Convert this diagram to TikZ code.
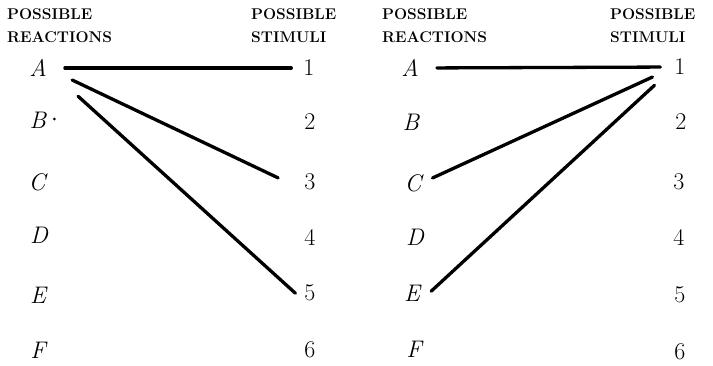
\documentclass[tikz,border=0pt]{standalone}
\usepackage{fontspec}

\begin{document}
\begin{tikzpicture}[
    x=1pt, y=-1pt,
    myhead/.style={anchor=north west, inner sep=0pt, align=left,
        font=\fontsize{15.5}{23.5}\selectfont\bfseries},
    myletter/.style={inner sep=0pt, font=\fontsize{24}{26}\selectfont\itshape},
    mynum/.style={inner sep=0pt, font=\fontsize{24}{26}\selectfont},
    myline/.style={line width=3.3pt, line cap=round}
]
    \useasboundingbox (0,0) rectangle (713,365);

    % Left panel: headings
    \node[myhead] (lreact) at (7,8) {POSSIBLE\\REACTIONS};
    \node[myhead] (lstim) at (251,8) {POSSIBLE\\STIMULI};

    % Left panel: reactions
    \node[myletter] (lA) at (38,68) {A};
    \node[myletter] (lB) at (38,120) {B};
    \node[myletter] (lC) at (37,182) {C};
    \node[myletter] (lD) at (39,235) {D};
    \node[myletter] (lE) at (38,295) {E};
    \node[myletter] (lF) at (38,350) {F};
    \fill ([xshift=8pt,yshift=1pt]lB.east) circle (1.5);

    % Left panel: stimuli
    \node[mynum] (l1) at (309,68) {1};
    \node[mynum] (l2) at (310,122) {2};
    \node[mynum] (l3) at (310,182) {3};
    \node[mynum] (l4) at (310,237) {4};
    \node[mynum] (l5) at (310,293) {5};
    \node[mynum] (l6) at (310,350) {6};

    % Left panel: one reaction, several stimuli
    \draw[myline, shorten <=18pt, shorten >=12pt] (lA.east) -- (l1.west);
    \draw[myline, shorten <=28pt, shorten >=29pt] (lA.east) -- (l3.south west);
    \draw[myline, shorten <=42pt, shorten >=12pt] (lA.east) -- (l5.south west);

    % Right panel: headings
    \node[myhead] (rreact) at (382,8) {POSSIBLE\\REACTIONS};
    \node[myhead] (rstim) at (610,8) {POSSIBLE\\STIMULI};

    % Right panel: reactions
    \node[myletter] (rA) at (410,68) {A};
    \node[myletter] (rB) at (411,122) {B};
    \node[myletter] (rC) at (413,183) {C};
    \node[myletter] (rD) at (415,237) {D};
    \node[myletter] (rE) at (412,293) {E};
    \node[myletter] (rF) at (414,349) {F};

    % Right panel: stimuli
    \node[mynum] (r1) at (680,67) {1};
    \node[mynum] (r2) at (681,122) {2};
    \node[mynum] (r3) at (679,182) {3};
    \node[mynum] (r4) at (679,237) {4};
    \node[mynum] (r5) at (680,295) {5};
    \node[mynum] (r6) at (680,352) {6};

    % Right panel: one stimulus, several reactions
    \draw[myline, shorten <=18pt, shorten >=14pt] (rA.east) -- (r1.west);
    \draw[myline, shorten <=24pt, shorten >=12pt] (r1.west) -- (rC.east);
    \draw[myline, shorten <=27pt, shorten >=15pt] (r1.west) -- (rE.south east);
\end{tikzpicture}
\end{document}
